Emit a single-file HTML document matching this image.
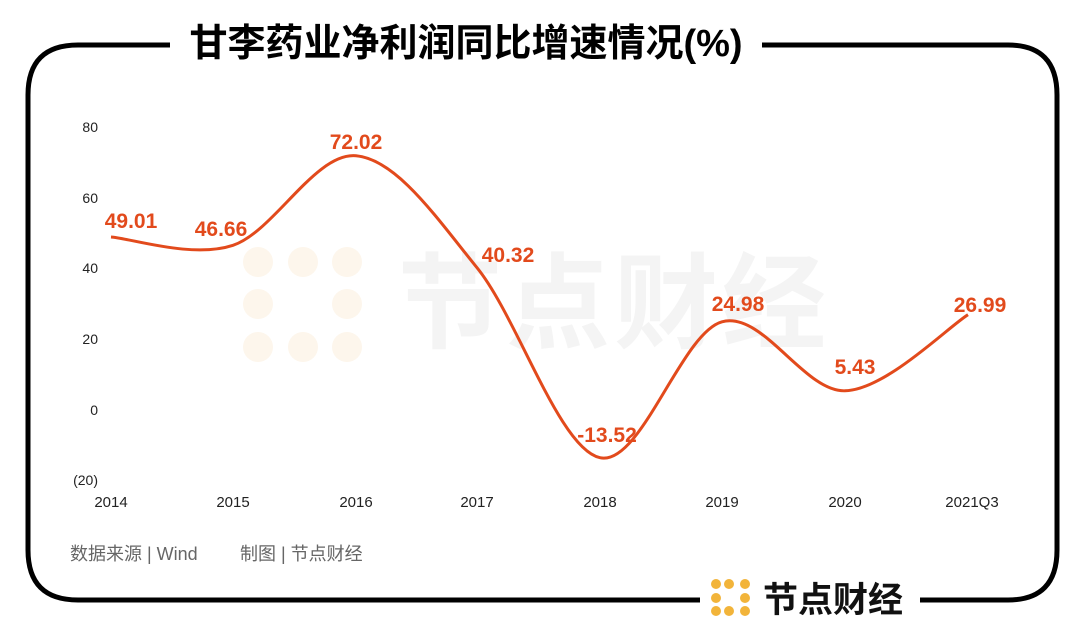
<!DOCTYPE html>
<html><head><meta charset="utf-8"><style>
body{margin:0;background:#fff;}
svg text{font-family:"Liberation Sans","Noto Sans CJK SC",sans-serif;}
</style></head><body>
<svg width="1080" height="633" viewBox="0 0 1080 633" xmlns="http://www.w3.org/2000/svg">
<rect width="1080" height="633" fill="#fff"/>
<path d="M170 45 L78 45 Q28 45 28 95 L28 550 Q28 600 78 600 L700 600 M920 600 L1008 600 Q1057 600 1057 550 L1057 95 Q1057 45 1008 45 L762 45" fill="none" stroke="#000" stroke-width="5"/>
<text x="466" y="56" text-anchor="middle" font-size="38" font-weight="bold" fill="#000">甘李药业净利润同比增速情况(%)</text>
<g fill="#fdf6ec">
<circle cx="258" cy="262" r="15"/><circle cx="303" cy="262" r="15"/><circle cx="347" cy="262" r="15"/>
<circle cx="258" cy="304" r="15"/><circle cx="347" cy="304" r="15"/>
<circle cx="258" cy="347" r="15"/><circle cx="303" cy="347" r="15"/><circle cx="347" cy="347" r="15"/>
</g>
<text x="398" y="340" font-size="104" font-weight="bold" fill="#f4f4f4" letter-spacing="4">节点财经</text>
<g font-size="14" fill="#222" text-anchor="end">
<text x="98" y="132">80</text><text x="98" y="203">60</text><text x="98" y="273">40</text>
<text x="98" y="344">20</text><text x="98" y="415">0</text><text x="98" y="485">(20)</text>
</g>
<g font-size="15" fill="#222" text-anchor="middle">
<text x="111" y="507">2014</text><text x="233" y="507">2015</text><text x="356" y="507">2016</text>
<text x="477" y="507">2017</text><text x="600" y="507">2018</text><text x="722" y="507">2019</text>
<text x="845" y="507">2020</text><text x="972" y="507">2021Q3</text>
</g>
<path d="M111 237 C131.3 238.4 192.2 258.8 233 245.3 C273.8 231.8 315.3 152.1 356 155.8 C396.7 159.5 436.3 217.4 477 267.7 C517.7 318 559.2 448.7 600 457.7 C640.8 466.7 681.2 333 722 321.8 C762.8 310.6 804 392 845 390.8 C886 389.6 947.5 327.4 968 314.7" fill="none" stroke="#e24a1c" stroke-width="3"/>
<g font-size="21" font-weight="bold" fill="#e24a1c" text-anchor="middle">
<text x="131" y="228">49.01</text><text x="221" y="236">46.66</text><text x="356" y="149">72.02</text>
<text x="508" y="262">40.32</text><text x="607" y="442">-13.52</text><text x="738" y="311">24.98</text>
<text x="855" y="374">5.43</text><text x="980" y="312">26.99</text>
</g>
<text x="70" y="560" font-size="18" fill="#666">数据来源 | Wind</text>
<text x="240" y="560" font-size="18" fill="#666">制图 | 节点财经</text>
<g fill="#f2b43a">
<circle cx="716" cy="584" r="5"/><circle cx="729" cy="584" r="5"/><circle cx="745" cy="584" r="5"/>
<circle cx="716" cy="598" r="5"/><circle cx="745" cy="598" r="5"/>
<circle cx="716" cy="611" r="5"/><circle cx="729" cy="611" r="5"/><circle cx="745" cy="611" r="5"/>
</g>
<text x="763" y="612" font-size="35" font-weight="bold" fill="#111">节点财经</text>
</svg>
</body></html>
